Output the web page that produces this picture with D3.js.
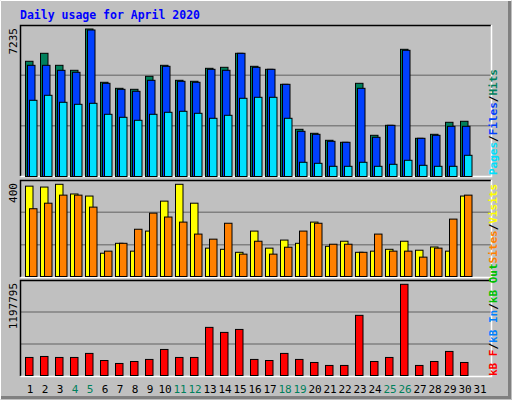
<!DOCTYPE html>
<html><head><meta charset="utf-8">
<script src="https://cdn.jsdelivr.net/npm/d3@7"></script>
<style>body{margin:0;background:#fff}svg{display:block}</style>
</head><body>
<script>
const days = d3.range(1, 32);
const weekend = [4,5,11,12,18,19,25,26];
const hits  = [5651,6043,5454,5209,7235,4621,4326,4277,4915,5454,4719,4670,5307,5356,6043,5405,5258,4522,2315,2119,1776,1678,4571,2021,2511,6239,1874,2070,2659,2708,0];
const files = [5454,5454,5209,5111,7186,4571,4277,4179,4719,5405,4670,4621,5258,5209,6043,5356,5258,4522,2217,2070,1727,1678,4326,1923,2511,6190,1874,2021,2462,2462,0];
const pages = [3738,3983,3640,3541,3590,3051,2904,2757,3051,3149,3198,3100,2855,3002,3836,3885,3885,2855,697,647,500,500,697,500,598,795,549,500,500,1040,0];
const visits= [392,388,400,358,349,101,144,110,197,327,400,318,123,118,105,197,123,158,144,236,131,153,105,110,118,153,114,128,110,349,0];
const sites = [294,318,353,353,301,110,144,205,275,258,236,184,162,231,97,153,97,127,197,231,140,140,105,184,110,110,84,123,249,353,0];
const kbytes= [237000,250000,237000,237000,290000,197000,158000,184000,211000,342000,237000,237000,632000,566000,605000,211000,197000,290000,211000,171000,132000,132000,790000,184000,237000,1197795,132000,184000,316000,171000,0];
const maxLabels = ["7235","400","1197795"];

const W=512,H=400;
const svg=d3.select("body").append("svg").attr("width",W).attr("height",H);
svg.append("rect").attr("width",W).attr("height",H).attr("fill","#c0c0c0");
// outer bevel
svg.append("path").attr("d","M0.5,399.5V0.5H511.5").attr("stroke","#fff").attr("fill","none");
svg.append("path").attr("d","M1,397.5H509.5V1").attr("stroke","#808080").attr("stroke-width",3).attr("fill","none");
const mono="'DejaVu Sans Mono', monospace";
svg.append("text").attr("x",20).attr("y",19).text("Daily usage for April 2020")
  .attr("font-family",mono).attr("font-weight","bold").attr("font-size",11.5).attr("fill","#0000ff");

const x=d3.scaleLinear().domain([1,31]).range([25,475]);
const panels=[{t:25,b:176},{t:180,b:277},{t:280,b:376}];
panels.forEach(p=>{
  const h=p.b-p.t;
  [1,2].forEach(i=>svg.append("line").attr("x1",20).attr("x2",491)
    .attr("y1",p.t+h*i/3).attr("y2",p.t+h*i/3).attr("stroke","#808080").attr("stroke-width",1.5));
  svg.append("path").attr("d",`M20.5,${p.b}V${p.t+0.5}H491`).attr("stroke","#000").attr("fill","none").attr("stroke-width",1.5);
  svg.append("path").attr("d",`M20.5,${p.b+0.5}H491.5V${p.t}`).attr("stroke","#fff").attr("fill","none").attr("stroke-width",1.5);
});
function bars(data,scale,off,color){
  svg.append("g").selectAll("rect").data(data.map((v,i)=>({d:i+1,v})).filter(o=>o.v>0)).join("rect")
    .attr("x",o=>x(o.d)+off).attr("width",7.5)
    .attr("y",o=>scale(o.v)).attr("height",o=>scale(0)-scale(o.v))
    .attr("fill",color).attr("stroke","#000").attr("stroke-width",1);
}
const y1=d3.scaleLinear().domain([0,7235]).range([176.5,29]);
bars(hits,y1,0.5,"#00805c");bars(files,y1,2.5,"#0040ff");bars(pages,y1,4.5,"#00e0ff");
const y2=d3.scaleLinear().domain([0,400]).range([276.5,184.3]);
bars(visits,y2,0.5,"#ffff00");bars(sites,y2,4.5,"#ff8000");
const y3=d3.scaleLinear().domain([0,1197795]).range([375.5,284.3]);
bars(kbytes,y3,0.5,"#ff0000");

// max labels left (rotated)
[[7235,y1],[400,y2],[1197795,y3]].forEach((a,i)=>{
  svg.append("text").attr("transform",`translate(17,${panels[i].t+3}) rotate(-90)`)
   .attr("text-anchor","end").attr("font-family",mono).attr("font-size",11).text(maxLabels[i]);
});
// day labels
svg.append("g").selectAll("text").data(days).join("text")
  .attr("x",d=>x(d)+5).attr("y",393).attr("text-anchor","middle")
  .attr("font-family",mono).attr("font-size",11)
  .attr("fill",d=>weekend.includes(d)?"#00805c":"#000").text(d=>d);
// right legends
function legend(parts,yStart){
  const t=svg.append("text").attr("transform",`translate(497,${yStart}) rotate(-90)`)
    .attr("font-family",mono).attr("font-size",11).attr("font-weight","bold");
  parts.forEach(([s,c])=>t.append("tspan").attr("fill",c).text(s));
}
legend([["Pages","#00e0ff"],["/","#000"],["Files","#0040ff"],["/","#000"],["Hits","#00805c"]],175);
legend([["kB F","#ff0000"],["/","#000"],["kB In","#0080ff"],["/","#000"],["kB Out","#00c000"],["Sites","#ff8000"],["/","#000"],["Visits","#ffff00"]],376);
</script>
</body></html>
